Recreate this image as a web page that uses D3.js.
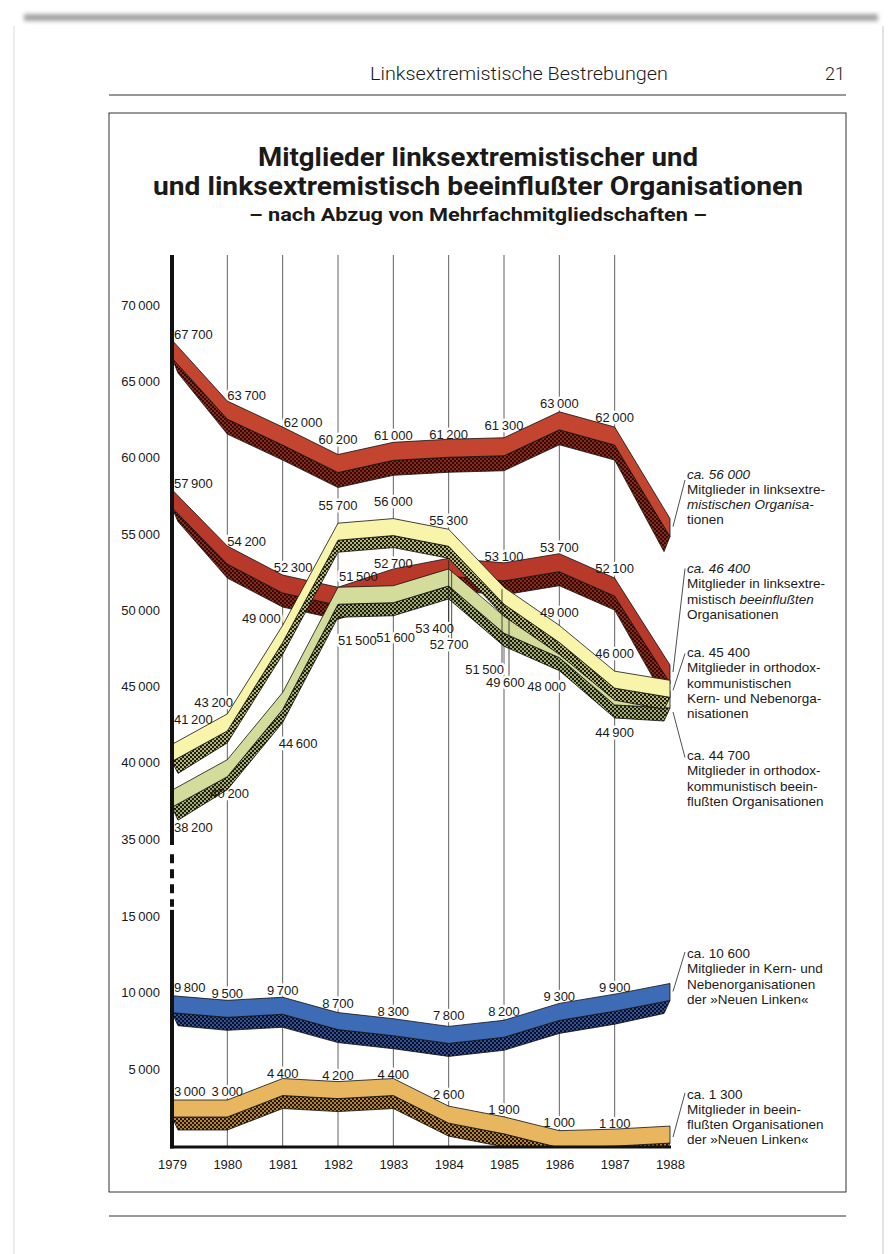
<!DOCTYPE html>
<html>
<head>
<meta charset="utf-8">
<script src="https://cdn.jsdelivr.net/npm/d3@7"></script>
<style>
  body { margin: 0; background: #fff; }
  svg { display: block; }
  text { font-family: "Liberation Sans", Arial, sans-serif; fill: #1a1a1a; }
</style>
</head>
<body>
<div id="chart"></div>
<script>
// Data
const years = [1979, 1980, 1981, 1982, 1983, 1984, 1985, 1986, 1987, 1988];
const linksextremistisch = [67700, 63700, 62000, 60200, 61000, 61200, 61300, 63000, 62000, 56000];
const linksBeeinflusst   = [57900, 54200, 52300, 51500, 52700, 53400, 53100, 53700, 52100, 46400];
const orthodoxKern       = [41200, 43200, 49000, 55700, 56000, 55300, 51500, 49000, 46000, 45400];
const orthodoxBeeinfl    = [38200, 40200, 44600, 51500, 51600, 52700, 49600, 48000, 44900, 44700];
const neueLinkeKern      = [9800, 9500, 9700, 8700, 8300, 7800, 8200, 9300, 9900, 10600];
const neueLinkeBeeinfl   = [3000, 3000, 4400, 4200, 4400, 2600, 1900, 1000, 1100, 1300];

const upperTicks = [35000, 40000, 45000, 50000, 55000, 60000, 65000, 70000];
const lowerTicks = [5000, 10000, 15000];

const annotations = [
  ["*ca. 56 000*", "Mitglieder in linksextre-", "*mistischen Organisa-*", "tionen"],
  ["*ca. 46 400*", "Mitglieder in linksextre-", "mistisch *beeinflußten*", "Organisationen"],
  ["ca. 45 400", "Mitglieder in orthodox-", "kommunistischen", "Kern- und Nebenorga-", "nisationen"],
  ["ca. 44 700", "Mitglieder in orthodox-", "kommunistisch beein-", "flußten Organisationen"],
  ["ca. 10 600", "Mitglieder in Kern- und", "Nebenorganisationen", "der »Neuen Linken«"],
  ["ca. 1 300", "Mitglieder in beein-", "flußten Organisationen", "der »Neuen Linken«"]
];

// Layout
const W = 895, H = 1254;
const fmt = v => d3.format(",")(v).replace(/,/g, "\u2009");

const svg = d3.select("#chart").append("svg")
  .attr("width", W).attr("height", H);
const defs = svg.append("defs");

defs.append("filter").attr("id", "blur")
  .attr("x", "-5%").attr("y", "-200%").attr("width", "110%").attr("height", "500%")
  .append("feGaussianBlur").attr("stdDeviation", 2.2);

// scanned page edges
svg.append("rect").attr("x", 24).attr("y", 14).attr("width", 854).attr("height", 7)
  .attr("fill", "#a3a3a3").attr("filter", "url(#blur)");
svg.append("line").attr("x1", 14).attr("x2", 14).attr("y1", 26).attr("y2", H)
  .attr("stroke", "#e6e6e6").attr("stroke-width", 1.5);
svg.append("line").attr("x1", 883).attr("x2", 883).attr("y1", 26).attr("y2", H)
  .attr("stroke", "#d8d8d8").attr("stroke-width", 1.5);

// header
svg.append("text").attr("x", 668).attr("y", 80).attr("text-anchor", "end")
  .style("font-family", "Roboto, 'Liberation Sans', sans-serif").style("font-weight", 300)
  .style("font-size", "18px").attr("textLength", 298).attr("lengthAdjust", "spacingAndGlyphs")
  .text("Linksextremistische Bestrebungen");
svg.append("text").attr("x", 845).attr("y", 80).attr("text-anchor", "end")
  .style("font-family", "Roboto, 'Liberation Sans', sans-serif").style("font-weight", 300)
  .style("font-size", "18px").text("21");
svg.append("line").attr("x1", 109).attr("x2", 846).attr("y1", 95).attr("y2", 95)
  .attr("stroke", "#333").attr("stroke-width", 1);
svg.append("rect").attr("x", 109).attr("y", 113).attr("width", 737).attr("height", 1079)
  .attr("fill", "none").attr("stroke", "#333").attr("stroke-width", 1);
svg.append("line").attr("x1", 109).attr("x2", 846).attr("y1", 1216).attr("y2", 1216)
  .attr("stroke", "#333").attr("stroke-width", 1);

// title
const titleFont = "Roboto, 'Liberation Sans', sans-serif";
[["Mitglieder linksextremistischer und", 166, 440, 25],
 ["und linksextremistisch beeinflußter Organisationen", 195, 650, 25],
 ["– nach Abzug von Mehrfachmitgliedschaften –", 221, 458, 18]].forEach(([t, y, len, fs]) => {
  svg.append("text").attr("x", 478).attr("y", y).attr("text-anchor", "middle")
    .style("font-family", titleFont).style("font-weight", 700).style("font-size", fs + "px")
    .attr("textLength", len).attr("lengthAdjust", "spacingAndGlyphs").text(t);
});

// Scales: broken value axis
const x = d3.scaleLinear().domain([1979, 1988]).range([172, 670]);
const yUp = d3.scaleLinear().domain([35000, 70000]).range([839, 305]);
const yLow = d3.scaleLinear().domain([0, 15000]).range([1146, 916]);
const y = v => v >= 20000 ? yUp(v) : yLow(v);

// grid lines
svg.append("g").selectAll("line")
  .data(years.slice(1, 9)).join("line")
  .attr("x1", d => x(d)).attr("x2", d => x(d))
  .attr("y1", 255).attr("y2", 1146)
  .attr("stroke", "#3a3a3a").attr("stroke-width", 0.8);

// series styling
const series = [
  { key: "red1",   values: linksextremistisch, face: "#c3452f", dark: "#330a05", dot: "#862a1a", h1: 18, h2: 15 },
  { key: "red2",   values: linksBeeinflusst,   face: "#b8382a", dark: "#330a05", dot: "#862a1a", h1: 18, h2: 14 },
  { key: "green",  values: orthodoxBeeinfl,    face: "#d4dc9c", dark: "#1a1e0c", dot: "#a3aa74", h1: 17, h2: 13 },
  { key: "yellow", values: orthodoxKern,       face: "#f8f4aa", dark: "#1e1e0c", dot: "#b4b378", h1: 17, h2: 12 },
  { key: "blue",   values: neueLinkeKern,      face: "#3d6bb5", dark: "#08102a", dot: "#34508e", h1: 17, h2: 13 },
  { key: "orange", values: neueLinkeBeeinfl,   face: "#e7b65e", dark: "#261605", dot: "#b08438", h1: 17, h2: 13 }
];

// label placement: [anchor, dx, dy, leaderDx]
const S = "start", M = "middle", E = "end";
const labelLayout = {
  red1:   [[S,2,-1],[S,0,-1.5],[S,1,-0.5],[M,0,-10.5],[M,0,-2.5],[M,0,-0.5],[M,0,-7.5],[M,0,-3.5],[M,0,-5.5],null],
  red2:   [[S,2,-2],[S,0,-0.5],[S,-9,-3.5],[S,1,-6.5],[M,0,-1],[M,-14,74.5,0],[M,0,-1.5],[M,0,-2],[M,0,-5.5],null],
  green:  [[S,2,41.5],[S,-17,38.5],[S,-4,55.5],[S,0,57.5],[S,-17,56.5],[S,-19,80.5,3],[S,-18,70.5,5],[S,-32,50.5],[M,0,49.5],null],
  yellow: [[S,2,-20.5],[S,-33,-6.5],[E,-2,-2.5],[M,0,-13.5],[M,0,-12.5],[M,0,-4.5],[E,0,86.5,-2],[M,0,-8.5],[M,0,-13.5],null],
  blue:   [[S,2,-3.5],[M,0,-2],[M,0,-2.5],[M,0,-5],[M,0,-2.3],[M,0,-6],[M,0,-4],[M,0,-2],[M,0,-2.5],null],
  orange: [[S,2,-4.5],[M,0,-4.5],[M,0,-1],[M,0,-2],[M,0,0],[M,0,-7.5],[M,0,-2.5],[M,0,-4],[M,0,-1.5],null]
};

const labels = [];
series.forEach(s => {
  s.values.forEach((v, i) => {
    const L = labelLayout[s.key][i];
    if (!L) return;
    labels.push({ v, px: x(years[i]), py: y(v), anchor: L[0], lx: x(years[i]) + L[1], ly: y(v) + L[2], leader: L[3] });
  });
});

// label halos cut the grid lines
const labelStyle = sel => sel
  .attr("x", d => d.lx).attr("y", d => d.ly)
  .attr("text-anchor", d => d.anchor)
  .style("font-size", "13px")
  .text(d => fmt(d.v));
svg.append("g").selectAll("text").data(labels).join("text")
  .call(labelStyle)
  .style("fill", "#fff").attr("stroke", "#fff").attr("stroke-width", 5).attr("stroke-linejoin", "round");

// bands
defs.append("clipPath").attr("id", "plotClip")
  .append("rect").attr("x", 173).attr("y", 240).attr("width", 500).attr("height", 1146 - 240);

series.forEach(s => {
  const p = defs.append("pattern").attr("id", "pat-" + s.key)
    .attr("patternUnits", "userSpaceOnUse").attr("width", 4).attr("height", 4);
  p.append("rect").attr("width", 4).attr("height", 4).attr("fill", s.dark);
  p.append("rect").attr("width", 2).attr("height", 2).attr("fill", s.dot);
  p.append("rect").attr("x", 2).attr("y", 2).attr("width", 2).attr("height", 2).attr("fill", s.dot);
});

const line = d3.line();
const bands = svg.append("g").attr("clip-path", "url(#plotClip)");
series.forEach(s => {
  const top = s.values.map((v, i) => [x(years[i]), y(v)]);
  const mid = top.map(([a, b]) => [a, b + s.h1]);
  const n = top.length - 1;
  const bot = mid.map(([a, b], i) => [i === 0 ? a + 6 : i === n ? a - 6 : a, b + s.h2]);
  const g = bands.append("g");
  g.append("path")
    .attr("d", line(mid.concat(bot.slice().reverse())) + "Z")
    .attr("fill", `url(#pat-${s.key})`).attr("stroke", "#111").attr("stroke-width", 0.8)
    .attr("stroke-linejoin", "round");
  g.append("path")
    .attr("d", line(top.concat(mid.slice().reverse())) + "Z")
    .attr("fill", s.face).attr("stroke", "#111").attr("stroke-width", 0.8)
    .attr("stroke-linejoin", "round");
});

// leader lines for labels placed below
svg.append("g").selectAll("line").data(labels.filter(d => d.leader !== undefined)).join("line")
  .attr("x1", d => d.px + d.leader).attr("x2", d => d.px + d.leader)
  .attr("y1", d => d.py + 2).attr("y2", d => d.ly - 11)
  .attr("stroke", "#222").attr("stroke-width", 0.8);

// value labels
svg.append("g").selectAll("text").data(labels).join("text").call(labelStyle);

// axes
const axisFont = g => g.selectAll("text")
  .style("font-family", "'Liberation Sans', Arial, sans-serif")
  .style("font-size", "13px").style("fill", "#1a1a1a");

svg.append("g").attr("transform", "translate(172,0)")
  .call(d3.axisLeft(yUp).tickValues(upperTicks).tickSize(0).tickPadding(12).tickFormat(fmt))
  .call(g => g.select(".domain").remove()).call(axisFont);
svg.append("g").attr("transform", "translate(172,0)")
  .call(d3.axisLeft(yLow).tickValues(lowerTicks).tickSize(0).tickPadding(12).tickFormat(fmt))
  .call(g => g.select(".domain").remove()).call(axisFont);
svg.append("g").attr("transform", "translate(0,1147)")
  .call(d3.axisBottom(x).tickValues(years).tickSize(0).tickPadding(13).tickFormat(d3.format("d")))
  .call(g => g.select(".domain").remove()).call(axisFont);

// thick axis lines with break
const ax = svg.append("g").attr("stroke", "#111").attr("stroke-width", 4);
ax.append("line").attr("x1", 172).attr("x2", 172).attr("y1", 255).attr("y2", yUp(34600));
ax.append("line").attr("x1", 172).attr("x2", 172).attr("y1", yUp(34000)).attr("y2", yLow(15600))
  .attr("stroke-dasharray", "9,6");
ax.append("line").attr("x1", 172).attr("x2", 172).attr("y1", yLow(15400)).attr("y2", 1148.5);
ax.append("line").attr("x1", 170).attr("x2", 671).attr("y1", 1147).attr("y2", 1147)
  .attr("stroke-width", 3);

// annotations at the right end of each band
const annoOrder = [linksextremistisch, linksBeeinflusst, orthodoxKern, orthodoxBeeinfl, neueLinkeKern, neueLinkeBeeinfl];
const annoTop = [478.5, 573, 657, 760, 958, 1098.5];
const annoStart = [8, 7, 10, 21, 8, 11];
const annoEndDy = [1.5, -4.5, -3.5, -2.5, -6, -5.5];
const lh = 15.3;
const ag = svg.append("g");
annotations.forEach((lines, k) => {
  const vals = annoOrder[k];
  const last = vals[vals.length - 1];
  ag.append("line")
    .attr("x1", x(1988) + 3).attr("y1", y(last) + annoStart[k])
    .attr("x2", 685).attr("y2", annoTop[k] + annoEndDy[k])
    .attr("stroke", "#222").attr("stroke-width", 0.8);
  lines.forEach((ln, j) => {
    const t = ag.append("text").attr("x", 687).attr("y", annoTop[k] + j * lh)
      .style("font-size", "13.5px");
    ln.split("*").forEach((part, pi) => {
      if (!part) return;
      t.append("tspan").style("font-style", pi % 2 ? "italic" : "normal").text(part);
    });
  });
});
</script>
</body>
</html>
